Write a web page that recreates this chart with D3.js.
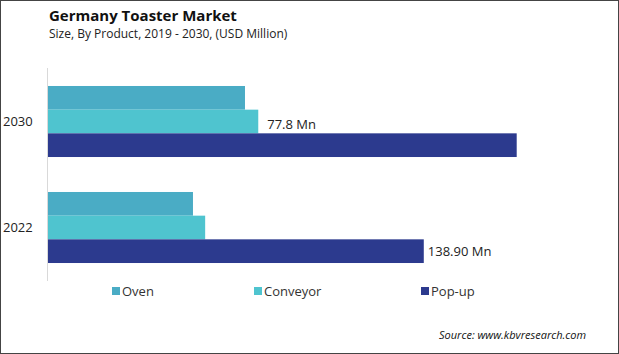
<!DOCTYPE html>
<html>
<head>
<meta charset="utf-8">
<script src="https://cdn.jsdelivr.net/npm/d3@7"></script>
<style>
  body { margin: 0; background: #fff; }
  svg { display: block; font-family: 'Open Sans', sans-serif; }
</style>
</head>
<body>
<div id="chart"></div>
<script>
var years = ["2030", "2022"];
var products = ["Oven", "Conveyor", "Pop-up"];
var oven = [72.9, 53.7];
var conveyor = [77.8, 58.2];
var popup = [173.2, 138.9];
var colors = ["#4aacc5", "#4fc4cf", "#2c3a8e"];

var width = 619, height = 354;

var svg = d3.select("#chart").append("svg")
  .attr("width", width)
  .attr("height", height);

// frame
svg.append("rect")
  .attr("x", 0.5).attr("y", 0.5)
  .attr("width", width - 1).attr("height", height - 1)
  .attr("fill", "#fff")
  .attr("stroke", "#444");

svg.append("text")
  .attr("x", 49).attr("y", 21)
  .text("Germany Toaster Market")
  .style("font-size", "15px")
  .style("font-weight", 700)
  .attr("fill", "#111");

svg.append("text")
  .attr("x", 49).attr("y", 38)
  .text("Size, By Product, 2019 - 2030, (USD Million)")
  .style("font-size", "12px")
  .attr("fill", "#222");

var data = years.map(function(y, i) {
  return { year: y, values: [oven[i], conveyor[i], popup[i]] };
});

var x = d3.scaleLinear().domain([0, 200]).range([47.5, 47.5 + 200 * 2.709]);

var y0 = d3.scaleBand()
  .domain(years)
  .range([68.5, 280.5])
  .paddingInner(0.33)
  .paddingOuter(0.165);

var y1 = d3.scaleBand()
  .domain(products)
  .range([0, y0.bandwidth()]);

var groups = svg.selectAll(".grp")
  .data(data)
  .enter()
  .append("g")
  .attr("class", "grp")
  .attr("transform", function(d) { return "translate(0," + y0(d.year) + ")"; });

groups.selectAll("rect")
  .data(function(d) { return d.values.map(function(v, i) { return { p: products[i], v: v, i: i }; }); })
  .enter()
  .append("rect")
  .attr("x", x(0))
  .attr("y", function(d) { return y1(d.p); })
  .attr("width", function(d) { return x(d.v) - x(0); })
  .attr("height", y1.bandwidth())
  .attr("fill", function(d) { return colors[d.i]; });

// year labels
groups.append("text")
  .attr("x", 3)
  .attr("y", y0.bandwidth() / 2)
  .attr("dy", "0.35em")
  .text(function(d) { return d.year; })
  .style("font-size", "13px")
  .attr("fill", "#222");

// value labels
svg.append("text")
  .attr("x", x(conveyor[0]) + 9)
  .attr("y", y0("2030") + y1("Conveyor") + y1.bandwidth() / 2 + 3)
  .attr("dy", "0.35em")
  .text(conveyor[0] + " Mn")
  .style("font-size", "13px")
  .attr("fill", "#222");

svg.append("text")
  .attr("x", x(popup[1]) + 4)
  .attr("y", y0("2022") + y1("Pop-up") + y1.bandwidth() / 2)
  .attr("dy", "0.35em")
  .text(popup[1].toFixed(2) + " Mn")
  .style("font-size", "13px")
  .attr("fill", "#222");

// axis line
svg.append("line")
  .attr("x1", x(0)).attr("x2", x(0))
  .attr("y1", 68).attr("y2", 281)
  .attr("stroke", "#d9d9d9")
  .attr("stroke-width", 1);

// legend
var legendX = [112, 254, 421];
var legend = svg.selectAll(".leg")
  .data(products)
  .enter()
  .append("g")
  .attr("class", "leg")
  .attr("transform", function(d, i) { return "translate(" + legendX[i] + ",287)"; });

legend.append("rect")
  .attr("width", 8).attr("height", 8)
  .attr("fill", function(d, i) { return colors[i]; });

legend.append("text")
  .attr("x", 10).attr("y", 4)
  .attr("dy", "0.35em")
  .text(function(d) { return d; })
  .style("font-size", "13px")
  .attr("fill", "#333");

svg.append("text")
  .attr("x", 439).attr("y", 339)
  .text("Source: www.kbvresearch.com")
  .style("font-size", "11px")
  .style("font-style", "italic")
  .attr("fill", "#111");
</script>
</body>
</html>
